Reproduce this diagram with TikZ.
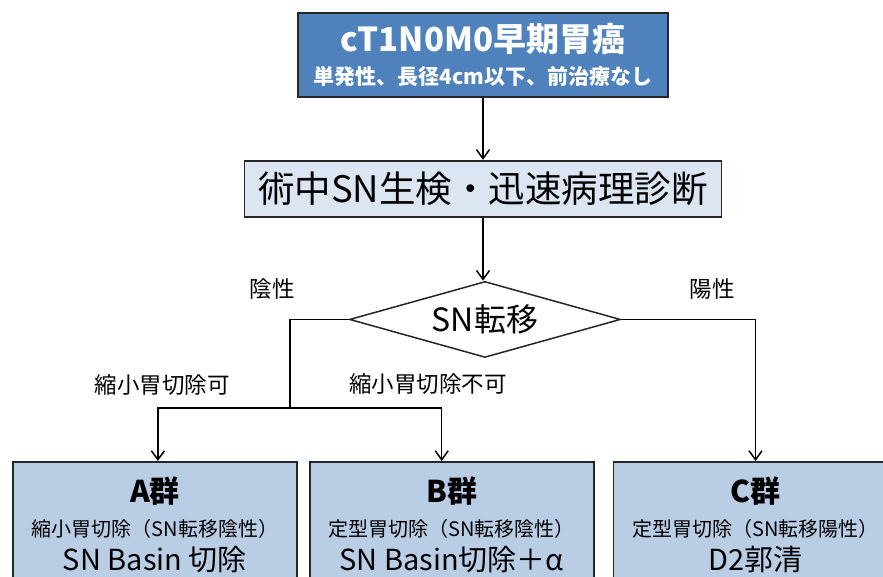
\documentclass[tikz,border=0pt]{standalone}
\usepackage{fontspec}
\setmainfont{Noto Sans CJK JP}
\usepackage{tikz}
\usetikzlibrary{arrows.meta}
\usetikzlibrary{positioning}
\usetikzlibrary{shapes.geometric}

\definecolor{headblue}{HTML}{4F81BD}
\definecolor{paleblue}{HTML}{DCE6F2}
\definecolor{groupblue}{HTML}{B9CDE5}

\begin{document}
\begin{tikzpicture}[x=1pt,y=-1pt,
		>={Straight Barb[length=9pt,width=13pt]},
		box/.style={draw=black!85,line width=1.8pt,rectangle,inner sep=0pt,align=center},
		groupbox/.style={box,fill=groupblue,minimum width=284pt,minimum height=126pt,font=\fontsize{20}{34}\selectfont},
		lbl/.style={font=\fontsize{22.5}{26}\selectfont},
		flow/.style={->,line width=1.5pt}]
		\useasboundingbox (0,0) rectangle (883,576);
		\clip (0,0) rectangle (883,576);

		\node [box,fill=headblue,text=white,minimum width=370pt,minimum height=84pt,font=\bfseries\fontsize{21}{33}\selectfont] (case) at (483,55) {{\fontsize{33}{33}\selectfont cT1N0M0早期胃癌}\\単発性、長径4cm以下、前治療なし};
		\node [box,fill=paleblue,minimum width=477pt,minimum height=56pt,font=\fontsize{36.5}{40}\selectfont,below=62pt of case] (biopsy) {術中SN生検・迅速病理診断};
		\node [draw=black!85,line width=1.5pt,diamond,aspect=3.6,fill=white,inner sep=0pt,minimum width=271pt,minimum height=76pt,font=\fontsize{32}{36}\selectfont,below=63pt of biopsy,xshift=2pt] (sn) {SN転移};

		\node [groupbox,anchor=north west] (grpA) at (12,461) {{\bfseries\fontsize{30}{34}\selectfont A群}\\縮小胃切除（SN転移陰性）\\{\fontsize{29}{34}\selectfont SN Basin 切除}};
		\node [groupbox,right=11pt of grpA] (grpB) {{\bfseries\fontsize{30}{34}\selectfont B群}\\定型胃切除（SN転移陰性）\\{\fontsize{29}{34}\selectfont SN Basin切除＋α}};
		\node [groupbox,right=18pt of grpB] (grpC) {{\bfseries\fontsize{30}{34}\selectfont C群}\\定型胃切除（SN転移陽性）\\{\fontsize{29}{34}\selectfont D2郭清}};

		\coordinate (split) at (290,408);

		\draw [flow] (case.south) -- (case.south |- biopsy.north);
		\draw [flow] (biopsy.south) -- (biopsy.south |- sn.north);
		\draw [line width=1.5pt] (sn.west) -| (split);
		\draw [flow] (split) -| ([xshift=3pt]grpA.north);
		\draw [flow] (split) -| ([xshift=-10pt]grpB.north);
		\draw [flow] (sn.east) -| (grpC.north);

		\node [lbl] (negative) at (272,289) {陰性};
		\node [lbl] (positive) at (712,289) {陽性};
		\node [lbl] (reducible) at (162,385) {縮小胃切除可};
		\node [lbl] (standard) at (428,384) {縮小胃切除不可};
	\end{tikzpicture}
\end{document}
